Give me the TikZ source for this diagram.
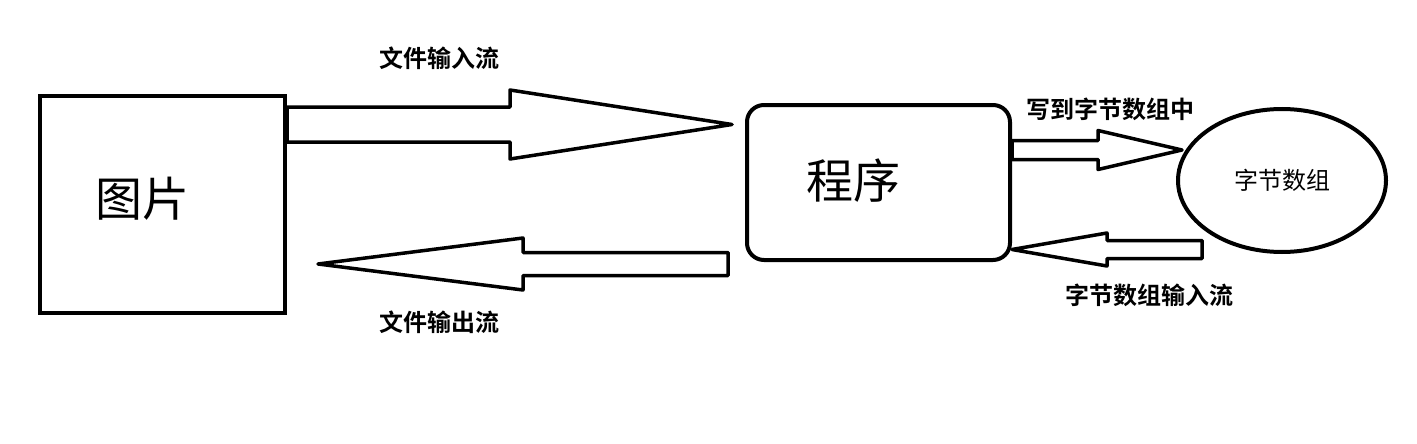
\documentclass[tikz,border=0pt]{standalone}
\usepackage{fontspec}
\newfontfamily\cjk{Noto Sans CJK SC}[BoldFont={Noto Sans CJK SC Bold}]
\usetikzlibrary{calc, positioning, shapes.geometric}

% block arrow: tail, tip, half shaft width, half head width, head length
\newcommand{\blockarrow}[5]{%
  \coordinate (ba-h) at ($(#2)!#5!(#1)$);
  \draw[blockarrow] ($(#1)!#3!90:(ba-h)$) -- ($(ba-h)!#3!-90:(#1)$)
    -- ($(ba-h)!#4!-90:(#1)$) -- (#2) -- ($(ba-h)!#4!90:(#1)$)
    -- ($(ba-h)!#3!90:(#1)$) -- ($(#1)!#3!-90:(ba-h)$) -- cycle;}

\begin{document}
\begin{tikzpicture}[
    x=1pt, y=-1pt,
    box/.style={rectangle, draw, line width=4pt, inner sep=0pt},
    prog/.style={box, rounded corners=17pt},
    store/.style={ellipse, draw, line width=4pt, inner sep=0pt,
        font=\cjk\fontsize{24}{27}\selectfont},
    blockarrow/.style={draw, line width=3.5pt, line join=round},
    flowlabel/.style={font=\cjk\bfseries\fontsize{24}{27}\selectfont},
    bigtext/.style={font=\cjk\fontsize{47}{51}\selectfont}
]
\useasboundingbox (0,0) rectangle (1417,444);

% Boxes
\node[box, minimum width=245pt, minimum height=217pt] (pic) at (162.5,204.5) {};
\node[bigtext] (pictext) at ([xshift=-20pt, yshift=6pt]pic.center) {图片};
\node[prog, minimum width=263pt, minimum height=155pt] (prog) at (878.5,182.5) {};
\node[bigtext] (progtext) at ([xshift=-25pt, yshift=2pt]prog.center) {程序};
\node[store, minimum width=208pt, minimum height=143pt] (arr) at (1282,180.5) {字节数组};

% Arrow ends
\coordinate (inTail) at (pic.east |- 0,124.5);
\coordinate (inTip) at ([xshift=-13pt]prog.west |- inTail);
\coordinate (outTail) at ([xshift=-17pt]prog.west |- 0,264);
\coordinate (outTip) at ([xshift=31pt]pic.east |- outTail);
\coordinate (wrTail) at (prog.east |- 0,150);
\coordinate (wrTip) at ([xshift=6pt]arr.west |- wrTail);
\coordinate (rdTail) at (1202,249.5);
\coordinate (rdTip) at (prog.east |- rdTail);

% Block arrows
\blockarrow{inTail}{inTip}{17.5pt}{34.5pt}{222pt}
\blockarrow{outTail}{outTip}{11.5pt}{26pt}{205pt}
\blockarrow{wrTail}{wrTip}{9.5pt}{19.5pt}{84pt}
\blockarrow{rdTail}{rdTip}{9pt}{16.5pt}{95pt}

% Labels
\node[flowlabel] (inlabel) at (439,58) {文件输入流};
\node[flowlabel] (outlabel) at (439,322) {文件输出流};
\node[flowlabel] (wrlabel) at (1110,109) {写到字节数组中};
\node[flowlabel] (rdlabel) at (1149,295) {字节数组输入流};

\end{tikzpicture}
\end{document}
